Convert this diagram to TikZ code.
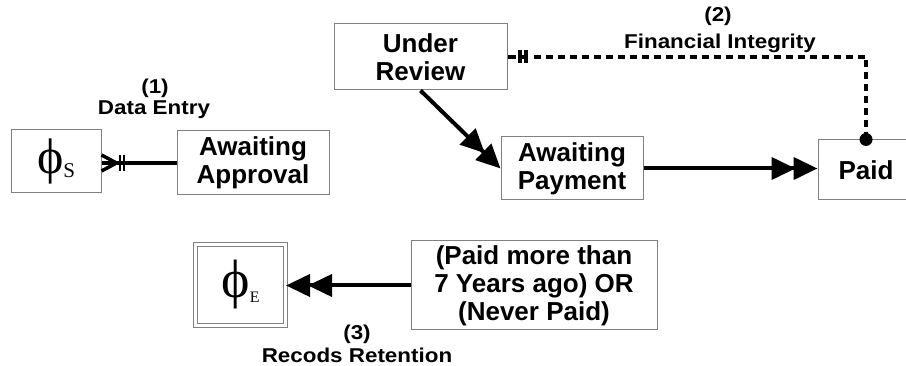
\documentclass[tikz,border=0pt]{standalone}
\usepackage{fontspec}
\setmainfont{Liberation Sans}
\newfontfamily\greekserif{Liberation Serif}
\usetikzlibrary{arrows.meta,calc}
\definecolor{boxgray}{RGB}{128,128,128}
\newcommand{\widetext}[1]{\scalebox{1.12}[1]{#1}}
\begin{document}
\begin{tikzpicture}[x=1pt,y=-1pt,
  box/.style={draw=boxgray, line width=1pt, align=center, inner sep=0pt,
    font=\fontsize{26}{28}\selectfont\bfseries},
  lbl/.style={align=center, inner sep=0pt, font=\fontsize{20}{26}\selectfont\bfseries},
  conn/.style={line width=4pt},
  dbl/.style={-{Triangle[length=24pt,width=22pt,sep=-2pt]Triangle[length=24pt,width=22pt]}},
  bar/.style={line width=2pt}
]
\useasboundingbox (0,0) rectangle (906,366);
\clip (0,0) rectangle (906,366);

% states
\node[box, minimum width=90pt, minimum height=63pt] (phis) at (56,161.5)
  {\greekserif\mdseries\fontsize{50}{50}\selectfont ϕ\raisebox{-4pt}{\fontsize{21}{21}\selectfont S}};
\node[box, minimum width=152pt, minimum height=64pt] (aa) at (253,163) {Awaiting\\Approval};
\node[box, minimum width=173pt, minimum height=66pt] (ur) at (420.5,57) {Under\\Review};
\node[box, minimum width=142pt, minimum height=63pt] (ap) at (572,168.5) {Awaiting\\Payment};
\node[box, minimum width=96pt, minimum height=60pt] (paid) at (866,170) {Paid};
\node[box, minimum width=246pt, minimum height=89pt] (pm) at (534,285.5)
  {(Paid more than\\7 Years ago) OR\\(Never Paid)};
\node[draw=boxgray, line width=1pt, double, double distance=3pt, inner sep=0pt,
  minimum width=90pt, minimum height=81pt] (phie) at (240.5,285)
  {\greekserif\fontsize{54}{54}\selectfont ϕ\raisebox{-5pt}{\fontsize{16}{16}\selectfont E}};

% (1) data entry
\coordinate (de) at (aa.west -| phis.east);
\draw[conn] (aa.west) -- (de);
\draw[line width=3.5pt] ($(de)+(15,0)$) -- ($(de)+(0,-8)$);
\draw[line width=3.5pt] ($(de)+(15,0)$) -- ($(de)+(0,8)$);
\draw[bar] ($(de)+(18.5,-8)$) -- ($(de)+(18.5,8)$);
\draw[bar] ($(de)+(22.5,-8)$) -- ($(de)+(22.5,8)$);
\node[lbl] (l1a) at (155,88) {\widetext{(1)}};
\node[lbl] (l1b) at (154,110) {\widetext{Data Entry}};

% (2) financial integrity
\coordinate (fi) at ($(ur.east)+(26,0)$);
\draw[line width=4pt] (ur.east) -- +(8,0);
\draw[line width=4pt] ($(ur.east)+(11,0)$) -- ($(ur.east)+(20,0)$);
\draw[line width=4pt] ($(ur.east)+(12,-6.5)$) -- ($(ur.east)+(12,6.5)$);
\draw[line width=4pt] ($(ur.east)+(18,-6.5)$) -- ($(ur.east)+(18,6.5)$);
\draw[line width=4pt, dash pattern=on 7pt off 5pt] (fi) -| (paid.north);
\fill (paid.north) circle[radius=6.5pt];
\node[lbl] (l2a) at (718,16) {\widetext{(2)}};
\node[lbl] (l2b) at (720,43) {\widetext{Financial Integrity}};

% flow of a claim
\draw[conn, dbl] (ur.south) -- (ap.west);
\draw[conn, dbl] (ap.east) -- (ap.east -| paid.west);

% (3) records retention
\draw[conn, dbl] (pm.west) -- (pm.west -| phie.east);
\node[lbl] (l3a) at (357,334) {\widetext{(3)}};
\node[lbl] (l3b) at (357,355) {\widetext{Recods Retention}};
\end{tikzpicture}
\end{document}
